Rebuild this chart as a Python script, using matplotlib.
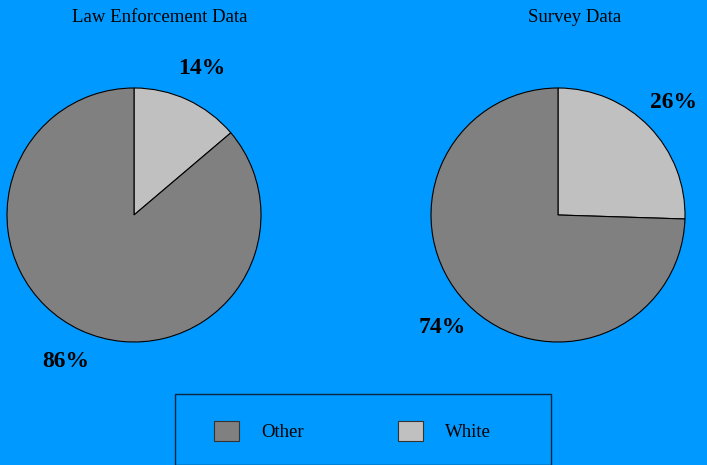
import matplotlib
matplotlib.use("Agg")
import matplotlib.pyplot as plt
from matplotlib.patches import Rectangle, Patch

plt.rcParams['font.family'] = ['Liberation Serif', 'DejaVu Serif']

categories = ["White", "Other"]
law_values = [13.8, 86.2]
survey_values = [25.5, 74.5]
titles = ["Law Enforcement Data", "Survey Data"]
colors = {"Other": "#808080", "White": "#C0C0C0"}
bg = "#0099FF"

W, H = 707, 465
fig = plt.figure(figsize=(W / 100, H / 100), dpi=100, facecolor=bg)

def add_pie(cx, cy, r, values, title, tx):
    ax = fig.add_axes([(cx - r) / W, (H - cy - r) / H, 2 * r / W, 2 * r / H])
    ax.set_facecolor(bg)
    ax.pie(values, colors=[colors[c] for c in categories], startangle=90,
           counterclock=False, autopct='%.0f%%', pctdistance=1.27,
           wedgeprops=dict(edgecolor='black', linewidth=0.8),
           textprops=dict(fontsize=17, fontweight='bold', color='black'))
    ax.set_xlim(-1, 1)
    ax.set_ylim(-1, 1)
    ax.set_aspect('equal')
    fig.text(tx / W, 1 - 17 / H, title, ha='center', va='center', fontsize=13.5)

add_pie(134, 215, 127, law_values, titles[0], 160)
add_pie(558, 215, 127, survey_values, titles[1], 575)

# legend box
fig.patches.append(Rectangle((175 / W, 0), (551 - 175) / W, (H - 394) / H,
                             transform=fig.transFigure, facecolor='none',
                             edgecolor='#0a2540', linewidth=1.0))
order = ["Other", "White"]
handles = [Patch(facecolor=colors[c], edgecolor='#333333', linewidth=0.8) for c in order]
fig.legend(handles, order, loc='center left', bbox_to_anchor=(214 / W, 1 - 431 / H),
           ncol=2, frameon=False, fontsize=13.5, handlelength=1.33, handleheight=1.33,
           handletextpad=1.2, columnspacing=4.99, borderpad=0, borderaxespad=0)

fig.savefig("out.png", dpi=100, facecolor=bg)
